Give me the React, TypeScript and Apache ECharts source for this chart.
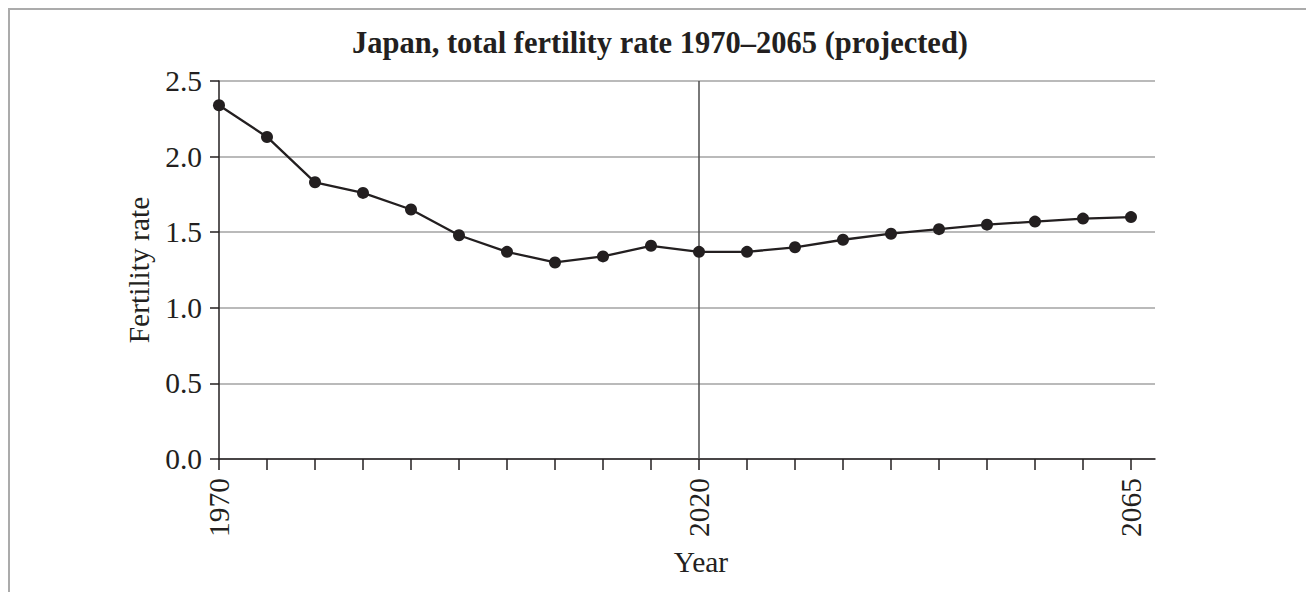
import React, { useEffect, useRef } from "react";
import * as echarts from "echarts";

const years = [1970, 1975, 1980, 1985, 1990, 1995, 2000, 2005, 2010, 2015, 2020, 2025, 2030, 2035, 2040, 2045, 2050, 2055, 2060, 2065];
const fertility = [2.34, 2.13, 1.83, 1.76, 1.65, 1.48, 1.37, 1.30, 1.34, 1.41, 1.37, 1.37, 1.40, 1.45, 1.49, 1.52, 1.55, 1.57, 1.59, 1.60];
const labeledYears = [1970, 2020, 2065];
const dividerYear = 2020;
const titleText = "Japan, total fertility rate 1970\u20132065 (projected)";

const FONT = '"Liberation Serif", "Times New Roman", serif';
const INK = "#231f20";
const LABEL_SIZE = 29.5;

export default function App() {
  const ref = useRef<HTMLDivElement>(null);
  useEffect(() => {
    document.documentElement.style.overflow = "hidden";
    document.body.style.overflow = "hidden";
    const chart = echarts.init(ref.current!, null, { renderer: "svg" });
    chart.setOption({
      animation: false,
      backgroundColor: "#ffffff",
      title: {
        text: titleText,
        left: 645,
        textAlign: "center",
        top: 12,
        textStyle: { fontFamily: FONT, fontWeight: "bold", fontSize: 30.5, color: INK },
      },
      grid: { left: 209, right: 171, top: 71, bottom: 147 },
      xAxis: {
        type: "value",
        min: 1970,
        max: 2067.5,
        interval: 5,
        name: "Year",
        nameLocation: "middle",
        nameGap: 88,
        nameTextStyle: { fontFamily: FONT, fontSize: LABEL_SIZE, color: INK, padding: [0, 0, 0, 28] },
        axisLine: { show: true, lineStyle: { color: INK, width: 1.5 } },
        axisTick: { show: true, length: 11, customValues: years, lineStyle: { color: INK, width: 1.5 } },
        axisLabel: {
          customValues: labeledYears,
          rotate: 90,
          margin: 19,
          fontFamily: FONT,
          fontSize: LABEL_SIZE,
          color: INK,
          formatter: (v: number) => String(v),
        },
        splitLine: { show: false },
      },
      yAxis: {
        type: "value",
        min: 0,
        max: 2.5,
        interval: 0.5,
        name: "Fertility rate",
        nameLocation: "middle",
        nameGap: 64,
        nameTextStyle: { fontFamily: FONT, fontSize: LABEL_SIZE, color: INK },
        axisLine: { show: true, lineStyle: { color: INK, width: 1.5 } },
        axisTick: { show: true, length: 9, lineStyle: { color: INK, width: 1.5 } },
        axisLabel: {
          margin: 17,
          fontFamily: FONT,
          fontSize: LABEL_SIZE,
          color: INK,
          formatter: (v: number) => v.toFixed(1),
        },
        splitLine: { show: true, lineStyle: { color: "#a3a3a3", width: 1.5 } },
      },
      series: [
        {
          type: "line",
          data: years.map((y, i) => [y, fertility[i]]),
          symbol: "circle",
          symbolSize: 12,
          itemStyle: { color: INK },
          lineStyle: { color: INK, width: 2.3 },
          markLine: {
            silent: true,
            symbol: "none",
            label: { show: false },
            lineStyle: { color: "#4d4d4d", width: 1.5, type: "solid" },
            data: [{ xAxis: dividerYear }],
            z: 1,
          },
          z: 3,
        },
      ],
    });
    return () => chart.dispose();
  }, []);
  return (
    <div style={{ width: 1320, height: 600, border: "2px solid #ababab", boxSizing: "border-box" }}>
      <div ref={ref} style={{ width: 1316, height: 596 }} />
    </div>
  );
}
